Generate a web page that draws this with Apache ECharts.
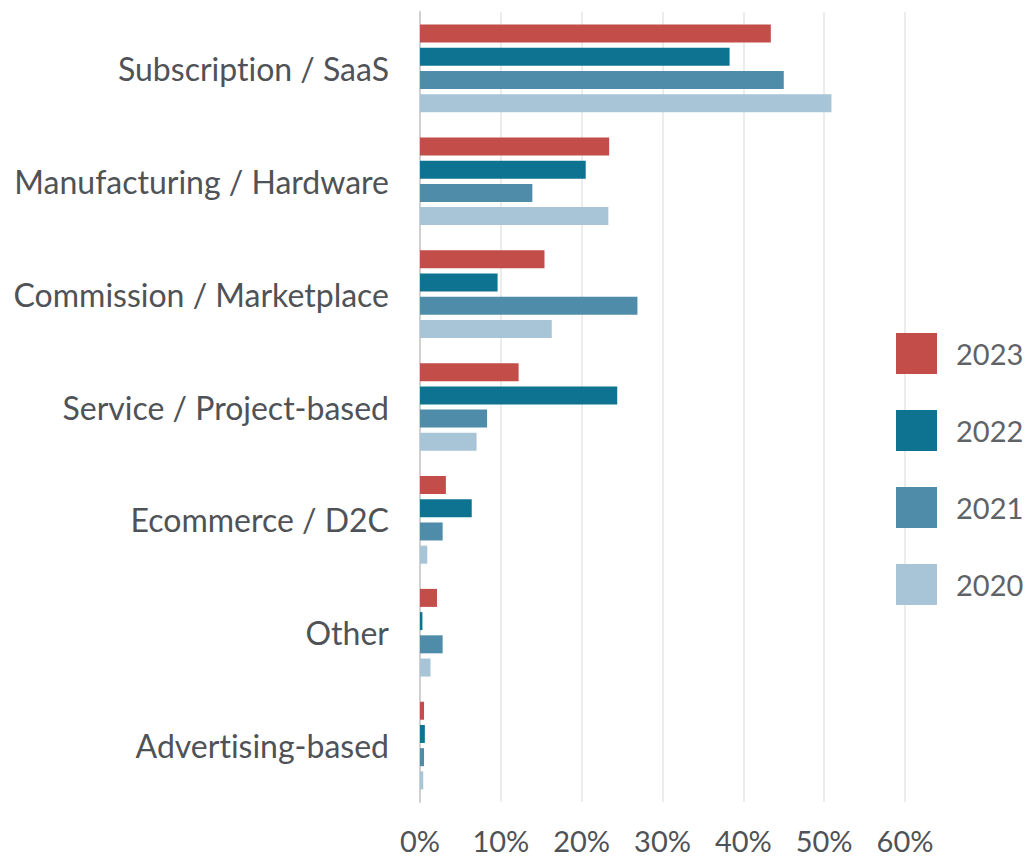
<!DOCTYPE html>
<html>
<head>
<meta charset="utf-8">
<script src="https://cdn.jsdelivr.net/npm/echarts@6/dist/echarts.min.js"></script>
<style>
  html, body { margin: 0; padding: 0; background: #ffffff; }
  #chart { width: 1027px; height: 858px; }
  #chart text { font-variant-ligatures: none; }
</style>
</head>
<body>
<div id="chart"></div>
<script>
// Revenue model categories, top to bottom
const categories = [
  'Subscription / SaaS',
  'Manufacturing / Hardware',
  'Commission / Marketplace',
  'Service / Project-based',
  'Ecommerce / D2C',
  'Other',
  'Advertising-based'
];

// Share of respondents per year (%)
const years = ['2023', '2022', '2021', '2020'];
const values2023 = [43.4, 23.4, 15.4, 12.2, 3.2, 2.1, 0.5];
const values2022 = [38.3, 20.5, 9.6, 24.4, 6.4, 0.3, 0.6];
const values2021 = [45.0, 13.9, 26.9, 8.3, 2.8, 2.8, 0.5];
const values2020 = [50.9, 23.3, 16.3, 7.0, 0.9, 1.3, 0.4];

const xTicks = [0, 10, 20, 30, 40, 50, 60];

const colors = ['#c24d49', '#0e7391', '#4e8ca9', '#a8c5d7'];
const seriesValues = [values2023, values2022, values2021, values2020];

const chart = echarts.init(document.getElementById('chart'), null, { renderer: 'svg' });

const option = {
  animation: false,
  backgroundColor: '#ffffff',
  textStyle: { fontFamily: 'Lato, "Open Sans", sans-serif' },
  grid: { left: 420, right: 122, top: 12, bottom: 56, containLabel: false },
  legend: {
    orient: 'vertical',
    left: 896,
    top: 333,
    padding: 0,
    itemWidth: 41,
    itemHeight: 41,
    itemGap: 36,
    icon: 'rect',
    data: years,
    textStyle: { fontSize: 29, color: '#5f6366', fontFamily: 'Lato', padding: [0, 0, 0, 14] }
  },
  xAxis: {
    type: 'value',
    min: xTicks[0],
    max: xTicks[xTicks.length - 1],
    interval: 10,
    axisLine: { show: false },
    axisTick: { show: false },
    splitLine: { show: true, lineStyle: { color: '#ececec', width: 2 } },
    axisLabel: {
      formatter: v => v + '%',
      fontSize: 29,
      lineHeight: 29,
      color: '#4f5256',
      fontFamily: 'Lato',
      margin: 24
    }
  },
  yAxis: {
    type: 'category',
    data: categories,
    inverse: true,
    axisLine: { show: true, lineStyle: { color: '#d0d0d0', width: 2 } },
    axisTick: { show: false },
    splitLine: { show: false },
    axisLabel: {
      fontSize: 32,
      color: '#4f5256',
      fontFamily: 'Lato',
      margin: 31,
      padding: [0, 0, 4, 0]
    }
  },
  series: years.map((y, i) => ({
    name: y,
    type: 'bar',
    data: seriesValues[i],
    barWidth: 18,
    barGap: '29%',
    itemStyle: { color: colors[i] }
  }))
};

chart.setOption(option);
</script>
</body>
</html>
